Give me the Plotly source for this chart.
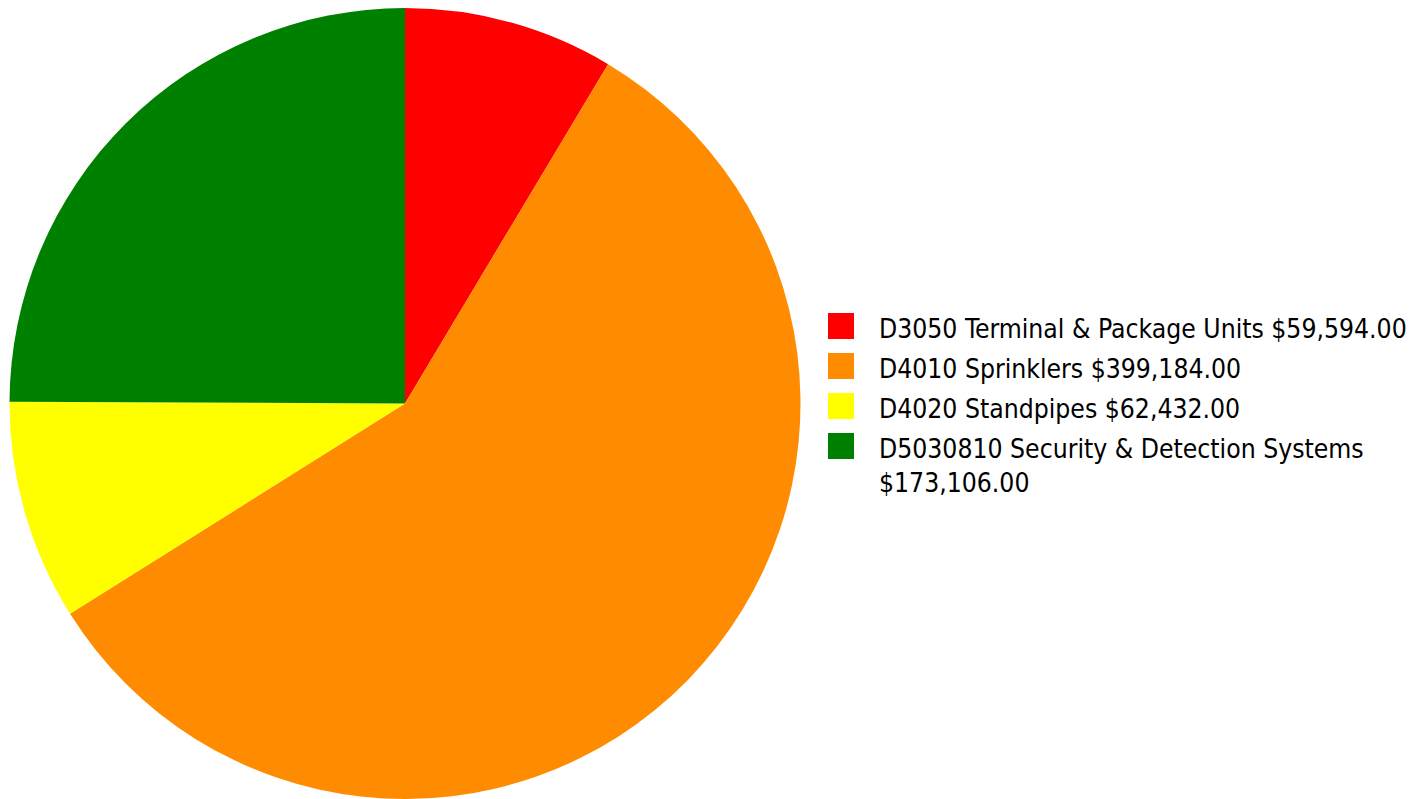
import plotly.graph_objects as go

W, H = 1427, 799

categories = [
    "D3050 Terminal & Package Units",
    "D4010 Sprinklers",
    "D4020 Standpipes",
    "D5030810 Security & Detection Systems",
]
costs = [59594.00, 399184.00, 62432.00, 173106.00]
colors = ["#FF0000", "#FF8C00", "#FFFF00", "#008000"]
# categories whose legend text breaks before the amount
wrap_before_amount = [False, False, False, True]

fig = go.Figure(
    go.Pie(
        labels=categories,
        values=costs,
        marker=dict(colors=colors, line=dict(width=0)),
        sort=False,
        direction="clockwise",
        rotation=0,
        textinfo="none",
        hoverinfo="label+value+percent",
        showlegend=False,
        domain=dict(x=[8 / W, 802 / W], y=[0, 1 - 8 / H]),
    )
)

# Legend drawn as coloured squares with text beside them
sq = 26
row_gap = 40
top0 = 313
x_sq = 828
x_txt = 877
font = dict(family="DejaVu Sans Condensed", size=26.3, color="#000000")
for i, (cat, val, col, wrap) in enumerate(zip(categories, costs, colors, wrap_before_amount)):
    top = top0 + i * row_gap
    fig.add_shape(
        type="rect", xref="paper", yref="paper",
        x0=x_sq / W, x1=(x_sq + sq) / W,
        y0=1 - (top + sq) / H, y1=1 - top / H,
        fillcolor=col, line=dict(width=0),
    )
    sep = "<br>" if wrap else " "
    fig.add_annotation(
        xref="paper", yref="paper",
        x=x_txt / W, y=1 - (top - 1) / H,
        xanchor="left", yanchor="top",
        text=f"{cat}{sep}${val:,.2f}",
        showarrow=False, align="left",
        font=font,
    )

fig.update_layout(
    width=W, height=H,
    margin=dict(l=0, r=0, t=0, b=0),
    paper_bgcolor="white",
    plot_bgcolor="white",
)

fig.write_html("out.html")
